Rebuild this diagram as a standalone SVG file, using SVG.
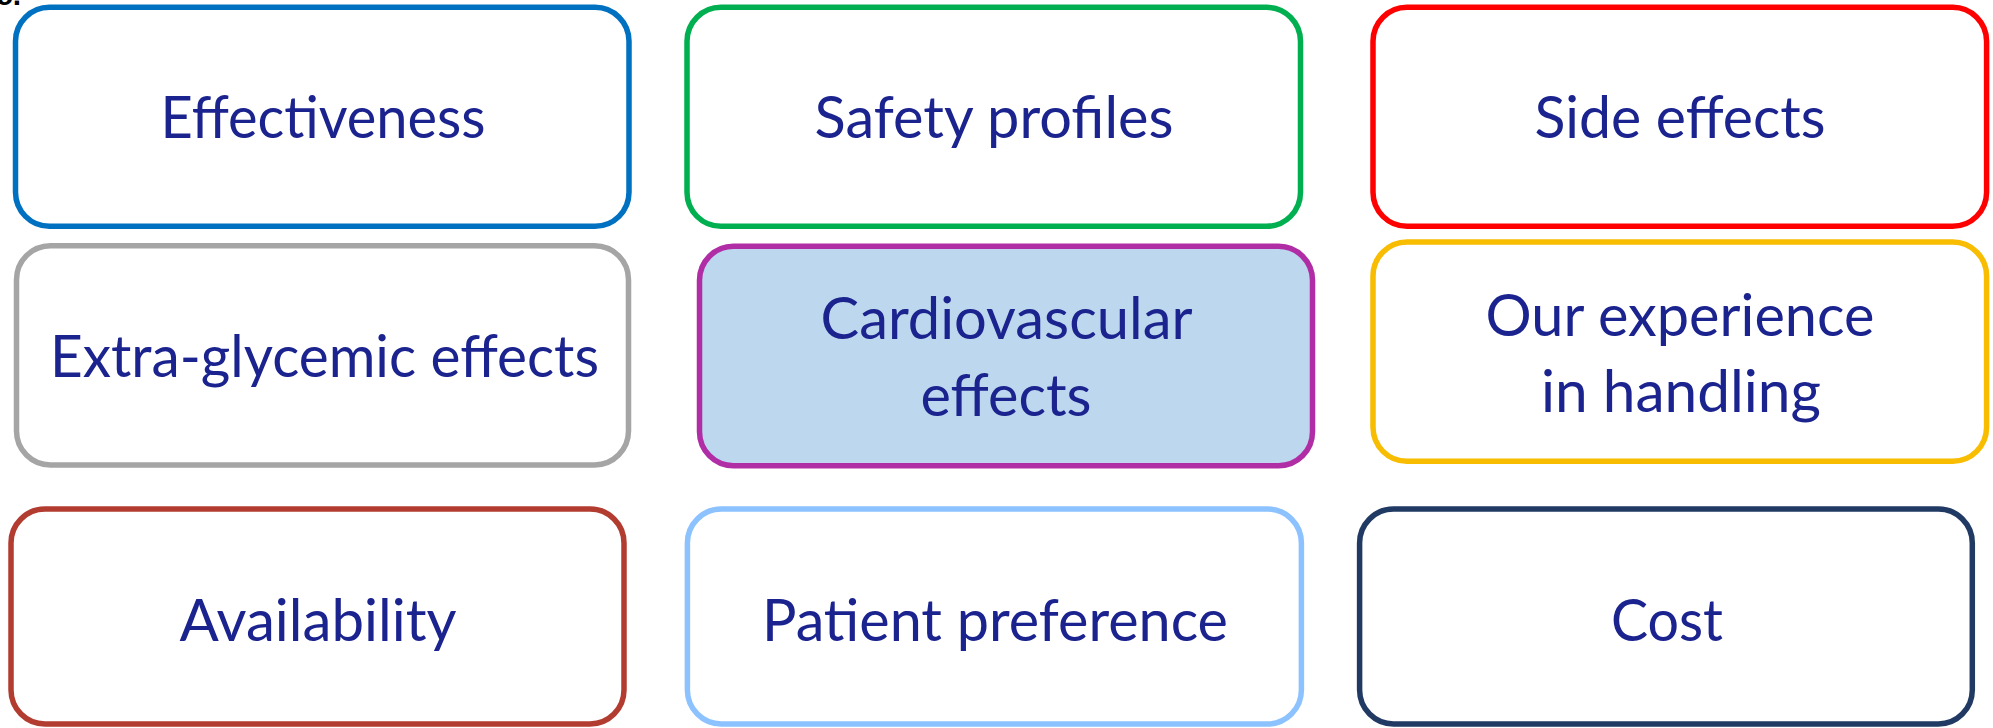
<svg xmlns="http://www.w3.org/2000/svg" width="1993" height="728" viewBox="0 0 1993 728">
  <style>
    .box { fill: #ffffff; stroke-width: 5.5; }
    .label { font-family: Lato, "Open Sans", "Liberation Sans", sans-serif; font-size: 58px; fill: #1b238e; text-anchor: middle; }
    .panel { font-family: "Liberation Sans", Arial, sans-serif; font-size: 30px; font-weight: bold; fill: #000000; }
  </style>

  <rect width="1993" height="728" fill="#ffffff"/>

  <!-- panel letter, clipped at the top edge -->
  <text class="panel" x="-4" y="4.5">c.</text>

  <g id="effectiveness">
    <rect class="box" x="15.5" y="7.3" width="613.5" height="219" rx="34" ry="34" stroke="#0070c0"/>
    <text class="label" x="323" y="138" textLength="325" lengthAdjust="spacingAndGlyphs">Effectiveness</text>
  </g>

  <g id="safety-profiles">
    <rect class="box" x="687" y="7.3" width="613.5" height="219" rx="34" ry="34" stroke="#00b050"/>
    <text class="label" x="994" y="138" textLength="359" lengthAdjust="spacingAndGlyphs">Safety profiles</text>
  </g>

  <g id="side-effects">
    <rect class="box" x="1373" y="7.3" width="613.6" height="219" rx="34" ry="34" stroke="#ff0000"/>
    <text class="label" x="1680" y="138" textLength="291" lengthAdjust="spacingAndGlyphs">Side effects</text>
  </g>

  <g id="extra-glycemic-effects">
    <rect class="box" x="16.5" y="245.7" width="612" height="219.3" rx="34" ry="34" stroke="#a5a5a5"/>
    <text class="label" x="324.5" y="376.7" textLength="549" lengthAdjust="spacingAndGlyphs">Extra-glycemic effects</text>
  </g>

  <g id="cardiovascular-effects">
    <rect class="box" x="699.5" y="246.3" width="613" height="219.4" rx="34" ry="34" stroke="#b02da5" style="fill:#bdd7ee"/>
    <text class="label" x="1006.5" y="339.3" textLength="372" lengthAdjust="spacingAndGlyphs">Cardiovascular</text>
    <text class="label" x="1006" y="416" textLength="171" lengthAdjust="spacingAndGlyphs">effects</text>
  </g>

  <g id="experience-in-handling">
    <rect class="box" x="1373" y="242" width="613.6" height="219.3" rx="34" ry="34" stroke="#f8bc00"/>
    <text class="label" x="1680" y="336" textLength="389" lengthAdjust="spacingAndGlyphs">Our experience</text>
    <text class="label" x="1681" y="412" textLength="280" lengthAdjust="spacingAndGlyphs">in handling</text>
  </g>

  <g id="availability">
    <rect class="box" x="11" y="509" width="613" height="215" rx="34" ry="34" stroke="#b23c30"/>
    <text class="label" x="318" y="641" textLength="277" lengthAdjust="spacingAndGlyphs">Availability</text>
  </g>

  <g id="patient-preference">
    <rect class="box" x="687.4" y="509" width="614" height="215" rx="34" ry="34" stroke="#8cc2ff"/>
    <text class="label" x="995" y="641" textLength="466" lengthAdjust="spacingAndGlyphs">Patient preference</text>
  </g>

  <g id="cost">
    <rect class="box" x="1359.6" y="509" width="612.7" height="215" rx="34" ry="34" stroke="#213a64"/>
    <text class="label" x="1667" y="641" textLength="112" lengthAdjust="spacingAndGlyphs">Cost</text>
  </g>

  <!-- the boxes stand alone; no connectors -->
  <g id="connectors"/>
</svg>
